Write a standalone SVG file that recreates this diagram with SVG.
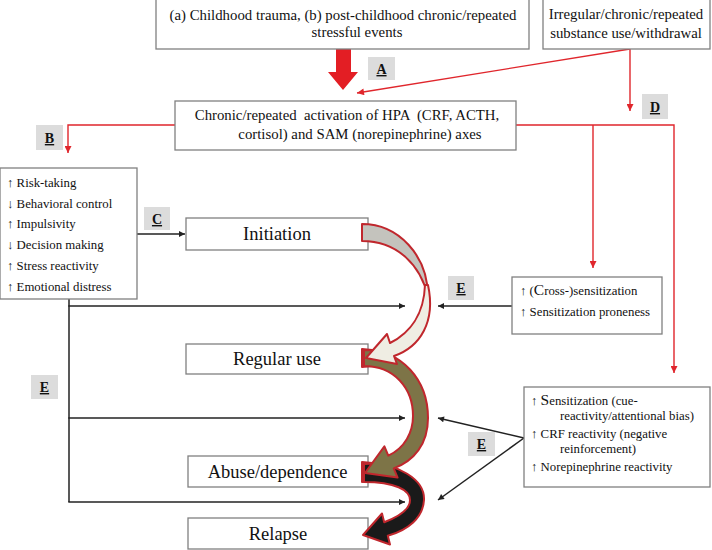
<svg xmlns="http://www.w3.org/2000/svg" width="712" height="550" viewBox="0 0 712 550">
<defs>
<style>
.box{fill:#fff;stroke:#808080;stroke-width:1.3}
.t{font-family:"Liberation Serif","Times New Roman",serif;fill:#111}
.big{font-size:18.5px}
.mid{font-size:14.8px}
.sm{font-size:12.8px}
.lb{fill:#dcdcdc}
.lt{font-family:"Liberation Serif","Times New Roman",serif;font-size:14px;font-weight:bold;text-decoration:underline;fill:#111}
.rl{fill:none;stroke:#e0262c;stroke-width:1.4}
.bl{fill:none;stroke:#222;stroke-width:1.5}
.cv{stroke:#c0272d;stroke-width:2;stroke-linejoin:round}
</style>
<marker id="ar" viewBox="0 0 10 10" refX="10" refY="5" markerWidth="8" markerHeight="7" markerUnits="userSpaceOnUse" orient="auto"><path d="M0,0 L10,5 L0,10 Z" fill="#e0262c"/></marker>
<marker id="ab" viewBox="0 0 10 10" refX="10" refY="5" markerWidth="8" markerHeight="6" markerUnits="userSpaceOnUse" orient="auto"><path d="M0,0 L10,5 L0,10 Z" fill="#222"/></marker>
</defs>
<rect width="712" height="550" fill="#fff"/>

<g id="connectors">
<polygon points="336,49 351,49 351,72 358,72 343,90 328,72 336,72" fill="#e31e24"/>
<line class="rl" x1="630" y1="49" x2="357" y2="93" marker-end="url(#ar)"/>
<line class="rl" x1="630" y1="49" x2="630" y2="111" marker-end="url(#ar)"/>
<polyline class="rl" points="175,125 68,125 68,153" marker-end="url(#ar)"/>
<polyline class="rl" points="516,125 674,125 674,373" marker-end="url(#ar)"/>
<line class="rl" x1="593" y1="125" x2="593" y2="268" marker-end="url(#ar)"/>
<line class="bl" x1="137" y1="234" x2="185" y2="234" marker-end="url(#ab)"/>
<line class="bl" x1="69" y1="299" x2="69" y2="502"/>
<line class="bl" x1="68.3" y1="306" x2="405" y2="306" marker-end="url(#ab)"/>
<line class="bl" x1="68.3" y1="418" x2="405" y2="418" marker-end="url(#ab)"/>
<line class="bl" x1="68.3" y1="502" x2="405" y2="502" marker-end="url(#ab)"/>
<line class="bl" x1="512" y1="306" x2="438" y2="306" marker-end="url(#ab)"/>
<line class="bl" x1="524" y1="438" x2="438" y2="418" marker-end="url(#ab)"/>
<line class="bl" x1="524" y1="438" x2="438" y2="500" marker-end="url(#ab)"/>
</g>

<g id="label-A"><rect class="lb" x="368" y="57" width="27" height="23"/><text class="lt" x="381.5" y="74" text-anchor="middle">A</text></g>
<g id="label-B"><rect class="lb" x="36" y="125" width="27" height="25"/><text class="lt" x="49.5" y="143" text-anchor="middle">B</text></g>
<g id="label-C"><rect class="lb" x="144" y="207" width="26" height="23"/><text class="lt" x="157" y="224" text-anchor="middle">C</text></g>
<g id="label-D"><rect class="lb" x="642" y="94" width="26" height="25"/><text class="lt" x="655" y="112" text-anchor="middle">D</text></g>
<g id="label-E1"><rect class="lb" x="448" y="276" width="26" height="24"/><text class="lt" x="461" y="293" text-anchor="middle">E</text></g>
<g id="label-E2"><rect class="lb" x="31" y="375" width="27" height="24"/><text class="lt" x="44.5" y="392" text-anchor="middle">E</text></g>
<g id="label-E3"><rect class="lb" x="468" y="432" width="27" height="24"/><text class="lt" x="481.5" y="449" text-anchor="middle">E</text></g>

<g id="trauma">
<rect class="box" x="156" y="-1" width="373" height="50"/>
<text class="t mid" x="343" y="20" text-anchor="middle">(a) Childhood trauma, (b) post-childhood chronic/repeated</text>
<text class="t mid" x="357" y="37" text-anchor="middle">stressful events</text>
</g>
<g id="substance">
<rect class="box" x="543" y="-1" width="167" height="50"/>
<text class="t mid" x="626" y="19" text-anchor="middle">Irregular/chronic/repeated</text>
<text class="t mid" x="626" y="38" text-anchor="middle">substance use/withdrawal</text>
</g>
<g id="hpa">
<rect class="box" x="175" y="101" width="341" height="49"/>
<text class="t" font-size="14.8" x="347" y="120" text-anchor="middle" xml:space="preserve">Chronic/repeated  activation of HPA  (CRF, ACTH,</text>
<text class="t" font-size="14.8" x="360" y="139" text-anchor="middle">cortisol) and SAM (norepinephrine) axes</text>
</g>
<g id="traits">
<rect class="box" x="0" y="168" width="137" height="131"/>
<g class="t sm">
<text x="7" y="187">↑ Risk-taking</text>
<text x="7" y="208">↓ Behavioral control</text>
<text x="7" y="228">↑ Impulsivity</text>
<text x="7" y="249">↓ Decision making</text>
<text x="7" y="270">↑ Stress reactivity</text>
<text x="7" y="291">↑ Emotional distress</text>
</g>
</g>
<g id="crosssens">
<rect class="box" x="512" y="277" width="150" height="57"/>
<text class="t sm" x="520" y="295">↑ (<tspan font-size="15.5">C</tspan>ross-)sensitization</text>
<text class="t sm" x="520" y="316">↑ Sensitization proneness</text>
</g>
<g id="sensitization">
<rect class="box" x="524" y="387" width="186" height="100"/>
<text class="t sm" x="531" y="405">↑ <tspan font-size="15.5">S</tspan>ensitization (cue-</text>
<text class="t sm" x="560" y="420">reactivity/attentional bias)</text>
<text class="t sm" x="531" y="438">↑ CRF reactivity (negative</text>
<text class="t sm" x="560" y="453">reinforcement)</text>
<text class="t sm" x="531" y="471">↑ Norepinephrine reactivity</text>
</g>
<g id="initiation"><rect class="box" x="186" y="218" width="182" height="32"/><text class="t big" x="277" y="240" text-anchor="middle">Initiation</text></g>
<g id="regular"><rect class="box" x="186" y="344" width="182" height="30"/><text class="t big" x="277" y="365" text-anchor="middle">Regular use</text></g>
<g id="abuse"><rect class="box" x="188" y="456" width="180" height="31"/><text class="t big" x="277.5" y="477.5" text-anchor="middle">Abuse/dependence</text></g>
<g id="relapse"><rect class="box" x="188" y="518" width="180" height="31"/><text class="t big" x="278" y="539.5" text-anchor="middle">Relapse</text></g>

<g id="curved-arrows">
<path class="cv" d="M362,462 L372,463 L372,481 L362,482 Z" fill="#8b1c1f"/>
<path class="cv" fill="#1a1a1a" d="M364,464 C398,462 425,480 424,500 C423,518 408,530 387.8,535.8 L390,544.5 L363,535 L382,513.5 L384.2,522.2 C398,517 410,510 410,500 C410,490 395,482 364,482 Z"/>
<path class="cv" d="M362,349 L372,350 L372,366 L362,367 Z" fill="#8b1c1f"/>
<path class="cv" fill="#7d7447" d="M364,350 C402,350 428,380 428,418 C428,444 414,461 393.7,468.4 L397.6,477.6 L365,473 L384.4,446.4 L388.3,455.6 C405,448 413,432 413,416 C413,388 394,366 364,366 Z"/>
<path class="cv" fill="#c4c3bd" d="M362,224 C398,224 428,255 428,297 C421,266 398,241 362,241 Z"/>
<path class="cv" fill="#efede3" d="M425,285 C424,314 410,333 390,343 L387,334 L366,358 L397,364 L394,356 C420,347 436,322 428,285 Z"/>
</g>
</svg>
